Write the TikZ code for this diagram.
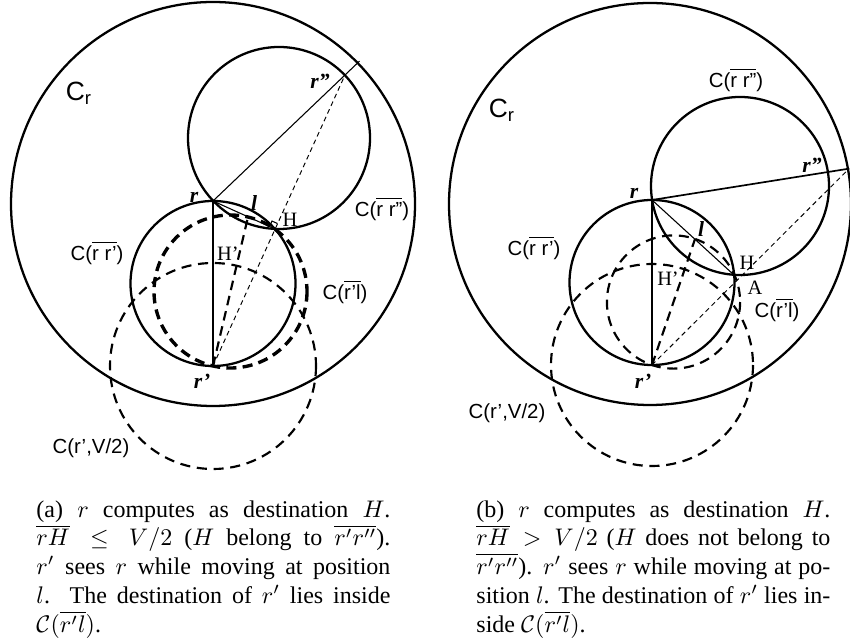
\documentclass[tikz,border=0pt]{standalone}
\usepackage{fontspec}
\setmainfont{Liberation Serif}
\setsansfont{Liberation Sans}
\usetikzlibrary{calc}

\begin{document}
\begin{tikzpicture}[
x=0.4167pt, y=-0.4167pt,
solidc/.style={line width=0.95pt},
widedash/.style={line width=1.4pt, dash pattern=on 4.2pt off 2.6pt},
dashc/.style={line width=0.9pt, dash pattern=on 4.2pt off 2.8pt},
thinl/.style={line width=0.45pt},
fine/.style={line width=0.4pt, dash pattern=on 2pt off 1.5pt},
thickd/.style={line width=0.9pt, dash pattern=on 4pt off 2.5pt},
circlab/.style={font=\fontsize{8.5}{10}\selectfont\sffamily, inner sep=0pt},
ptlab/.style={font=\fontsize{9}{10}\selectfont\bfseries\itshape, inner sep=0pt},
mk/.style={font=\fontsize{8.5}{10}\selectfont, inner sep=0pt},
capt/.style={text width=147.5pt, align=justify, font=\fontsize{10}{12}\selectfont, inner sep=0pt, anchor=base west}
]
\useasboundingbox (0,0) rectangle (850,644);

% (a) H on r'r''
\coordinate (oA) at (213,204);
\coordinate (rA) at (213,201);
\coordinate (rpA) at (213,366);
\coordinate (rppA) at (345,75);
\coordinate (HA) at (275,229);
\coordinate (lA) at (248,217);
\coordinate (tA) at ($(rA)!1.11!(rppA)$);

\draw[solidc] (oA) circle[radius=202];
\draw[solidc] ($(rA)!0.5!(rppA)$) circle[radius=91];
\draw[solidc] ($(rA)!0.5!(rpA)$) circle[radius=82.5];
\draw[widedash] ($(rpA)!0.5!(lA)$) circle[radius=76.5];
\draw[dashc] (rpA) circle[radius=103];

\draw[thinl] (rA) -- (tA);
\draw[thinl] (rA) -- (rpA);
\draw[thinl] (rA) -- (HA);
\draw[fine] (rpA) -- (rppA);
\draw[thickd] (rpA) -- (lA);
% right angle at H
\coordinate (qA) at ($(HA)!2.5pt!(rA)$);
\coordinate (sA) at ($(HA)!2.5pt!(rppA)$);
\draw[thinl] (qA) -- ($(qA)+(sA)-(HA)$) -- (sA);

\node[font=\fontsize{11}{12}\selectfont\sffamily, inner sep=0pt] (crA) at (79,93) {C\textsubscript{r}};
\node[circlab] (c1A) at (382,209) {C($\overline{\mbox{r r''}}$)};
\node[circlab] (c2A) at (97,253) {C($\overline{\mbox{r r'}}$)};
\node[circlab] (c3A) at (345,292) {C($\overline{\mbox{r'l}}$)};
\node[circlab] (c4A) at (91,448) {C(r',V/2)};
\node[ptlab] (nrA) at (194,197) {r};
\node[ptlab] (nrppA) at (320,81) {r''};
\node[ptlab] (nrpA) at (202,381) {r'};
\node[ptlab] (nlA) at (254,203) {l};
\node[mk] (nHA) at (290,220) {H};
\node[mk] (nHpA) at (228,254) {H'};

\node[capt] (capA) at (36,517) {(a) $r$ computes as destination $H$.
$\overline{rH}\leq V/2$ ($H$ belong to $\overline{r'r''}$).
$r'$ sees $r$ while moving at position $l$. The destination of $r'$ lies inside
$\mathcal{C}(\overline{r'l})$.};

% (b) H not on r'r''
\coordinate (oB) at (650,204);
\coordinate (rB) at (652,200);
\coordinate (rpB) at (652,365);
\coordinate (rppB) at (828,172);
\coordinate (HB) at (734,275);
\coordinate (lB) at (695,239);
\coordinate (tB) at ($(rB)!1.12!(rppB)$);

\draw[solidc] (oB) circle[radius=201];
\draw[solidc] ($(rB)!0.5!(rppB)$) circle[radius=89];
\draw[solidc] ($(rB)!0.5!(rpB)$) circle[radius=82.5];
\draw[dashc] ($(rpB)!0.5!(lB)$) circle[radius=66.6];
\draw[dashc] (rpB) circle[radius=101];

\draw[line width=0.7pt] (rB) -- (tB);
\draw[thinl] (rB) -- (rpB);
\draw[thinl] (rB) -- (HB);
\draw[fine] (rpB) -- (tB);
\draw[thickd] (rpB) -- (lB);

\node[font=\fontsize{11}{12}\selectfont\sffamily, inner sep=0pt] (crB) at (502,110) {C\textsubscript{r}};
\node[circlab] (c1B) at (736,80) {C($\overline{\mbox{r r''}}$)};
\node[circlab] (c2B) at (534,248) {C($\overline{\mbox{r r'}}$)};
\node[circlab] (c3B) at (777,310) {C($\overline{\mbox{r'l}}$)};
\node[circlab] (c4B) at (507,413) {C(r',V/2)};
\node[ptlab] (nrB) at (634,193) {r};
\node[ptlab] (nrppB) at (812,165) {r''};
\node[ptlab] (nrpB) at (643,381) {r'};
\node[ptlab] (nlB) at (701,229) {l};
\node[mk] (nHB) at (747,263) {H};
\node[mk] (nHpB) at (668,279) {H'};
\node[mk] (nAB) at (755,288) {A};

\node[capt] (capB) at (476,517) {(b) $r$ computes as destination $H$.
$\overline{rH} > V/2$ ($H$ does not belong to $\overline{r'r''}$). $r'$ sees $r$
while moving at position $l$. The destination of $r'$ lies inside
$\mathcal{C}(\overline{r'l})$.};
\end{tikzpicture}
\end{document}
